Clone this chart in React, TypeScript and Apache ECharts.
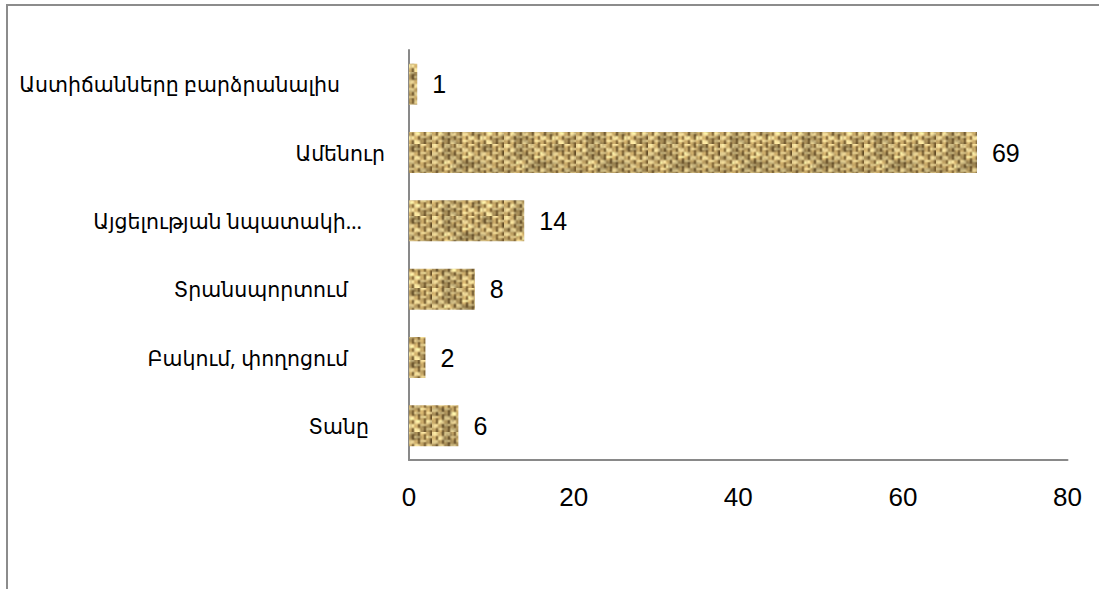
import React, { useEffect, useRef } from "react";
import * as echarts from "echarts";

const categories = [
  "Աստիճանները բարձրանալիս",
  "Ամենուր",
  "Այցելության նպատակի…",
  "Տրանսպորտում",
  "Բակում, փողոցում",
  "Տանը",
];
const values = [1, 69, 14, 8, 2, 6];
const xTicks = [0, 20, 40, 60, 80];
// right gap between each category label and the axis line (styling)
const labelGaps = [69, 24, 47, 61, 61, 40];

function makeBurlap(): HTMLCanvasElement {
  // small deterministic weave, then scaled up with smoothing for a soft burlap look
  const s = 36;
  const small = document.createElement("canvas");
  small.width = s;
  small.height = s;
  const sctx = small.getContext("2d")!;
  const img = sctx.createImageData(s, s);
  const hash = (x: number, y: number) => {
    let h = (x * 374761393 + y * 668265263) | 0;
    h = Math.imul(h ^ (h >>> 13), 1274126177);
    h = h ^ (h >>> 16);
    return ((h >>> 0) % 1000) / 1000;
  };
  for (let y = 0; y < s; y++) {
    for (let x = 0; x < s; x++) {
      const row = Math.floor(y / 2);
      const col = Math.floor(x / 3);
      const horizTop = (row + col) % 2 === 0;
      const gapY = y % 2 === 1 && hash(col, row) > 0.55;
      const gapX = x % 3 === 2;
      let base: number[];
      if (horizTop && !gapY) {
        base = [236, 214, 158];
      } else if (!gapX) {
        base = [196, 166, 108];
      } else {
        base = [112, 86, 46];
      }
      const n = hash(x + 101, y + 7);
      const n2 = hash(Math.floor(x / 5) + 17, Math.floor(y / 4) + 31);
      const k = 0.72 + 0.22 * n + 0.26 * n2;
      const i = (y * s + x) * 4;
      img.data[i] = Math.min(255, base[0] * k);
      img.data[i + 1] = Math.min(255, base[1] * k);
      img.data[i + 2] = Math.min(255, base[2] * k * 0.95);
      img.data[i + 3] = 255;
    }
  }
  sctx.putImageData(img, 0, 0);
  const c = document.createElement("canvas");
  c.width = s * 2;
  c.height = s * 2;
  const ctx = c.getContext("2d")!;
  ctx.imageSmoothingEnabled = true;
  ctx.drawImage(small, 0, 0, s * 2, s * 2);
  return c;
}

export default function App() {
  const ref = useRef<HTMLDivElement>(null);
  useEffect(() => {
    if (!ref.current) return;
    const chart = echarts.init(ref.current, undefined, { renderer: "svg" });
    const catFont = "'Noto Sans', 'DejaVu Sans', sans-serif";
    const numFont = "'Liberation Sans', Arial, sans-serif";
    const rich: Record<string, any> = {};
    labelGaps.forEach((g, i) => {
      rich["c" + i] = {
        fontSize: 20.5,
        fontFamily: catFont,
        color: "#000",
        padding: [0, g, 0, 0],
      };
    });
    chart.setOption({
      animation: false,
      backgroundColor: "#ffffff",
      graphic: [
        {
          type: "rect",
          shape: { x: 7, y: 5, width: 1200, height: 700 },
          style: { fill: "none", stroke: "#8c8c8c", lineWidth: 2 },
          silent: true,
        },
      ],
      grid: {
        left: 409,
        top: 50,
        right: 1099 - 1067.5,
        bottom: 589 - 460,
        containLabel: false,
        outerBoundsMode: "none",
      },
      xAxis: {
        type: "value",
        min: xTicks[0],
        max: xTicks[xTicks.length - 1],
        interval: 20,
        axisLine: { show: true, lineStyle: { color: "#898989", width: 2 } },
        axisTick: { show: false },
        splitLine: { show: false },
        axisLabel: {
          margin: 24,
          fontSize: 26,
          fontFamily: numFont,
          color: "#000",
        },
      },
      yAxis: {
        type: "category",
        inverse: true,
        data: categories,
        axisLine: { show: true, lineStyle: { color: "#898989", width: 2 } },
        axisTick: { show: false },
        axisLabel: {
          margin: 0,
          formatter: (v: string, i: number) => "{c" + i + "|" + v + "}",
          rich,
        },
      },
      series: [
        {
          type: "bar",
          data: values,
          barCategoryGap: "40%",
          itemStyle: {
            color: { image: makeBurlap(), repeat: "repeat" } as any,
          },
          label: {
            show: true,
            position: "right",
            distance: 15,
            fontSize: 25,
            fontFamily: numFont,
            color: "#000",
          },
        },
      ],
    });
    return () => chart.dispose();
  }, []);
  return (
    <div
      ref={ref}
      style={{ position: "absolute", left: 0, top: 0, width: 1099, height: 589 }}
    />
  );
}
